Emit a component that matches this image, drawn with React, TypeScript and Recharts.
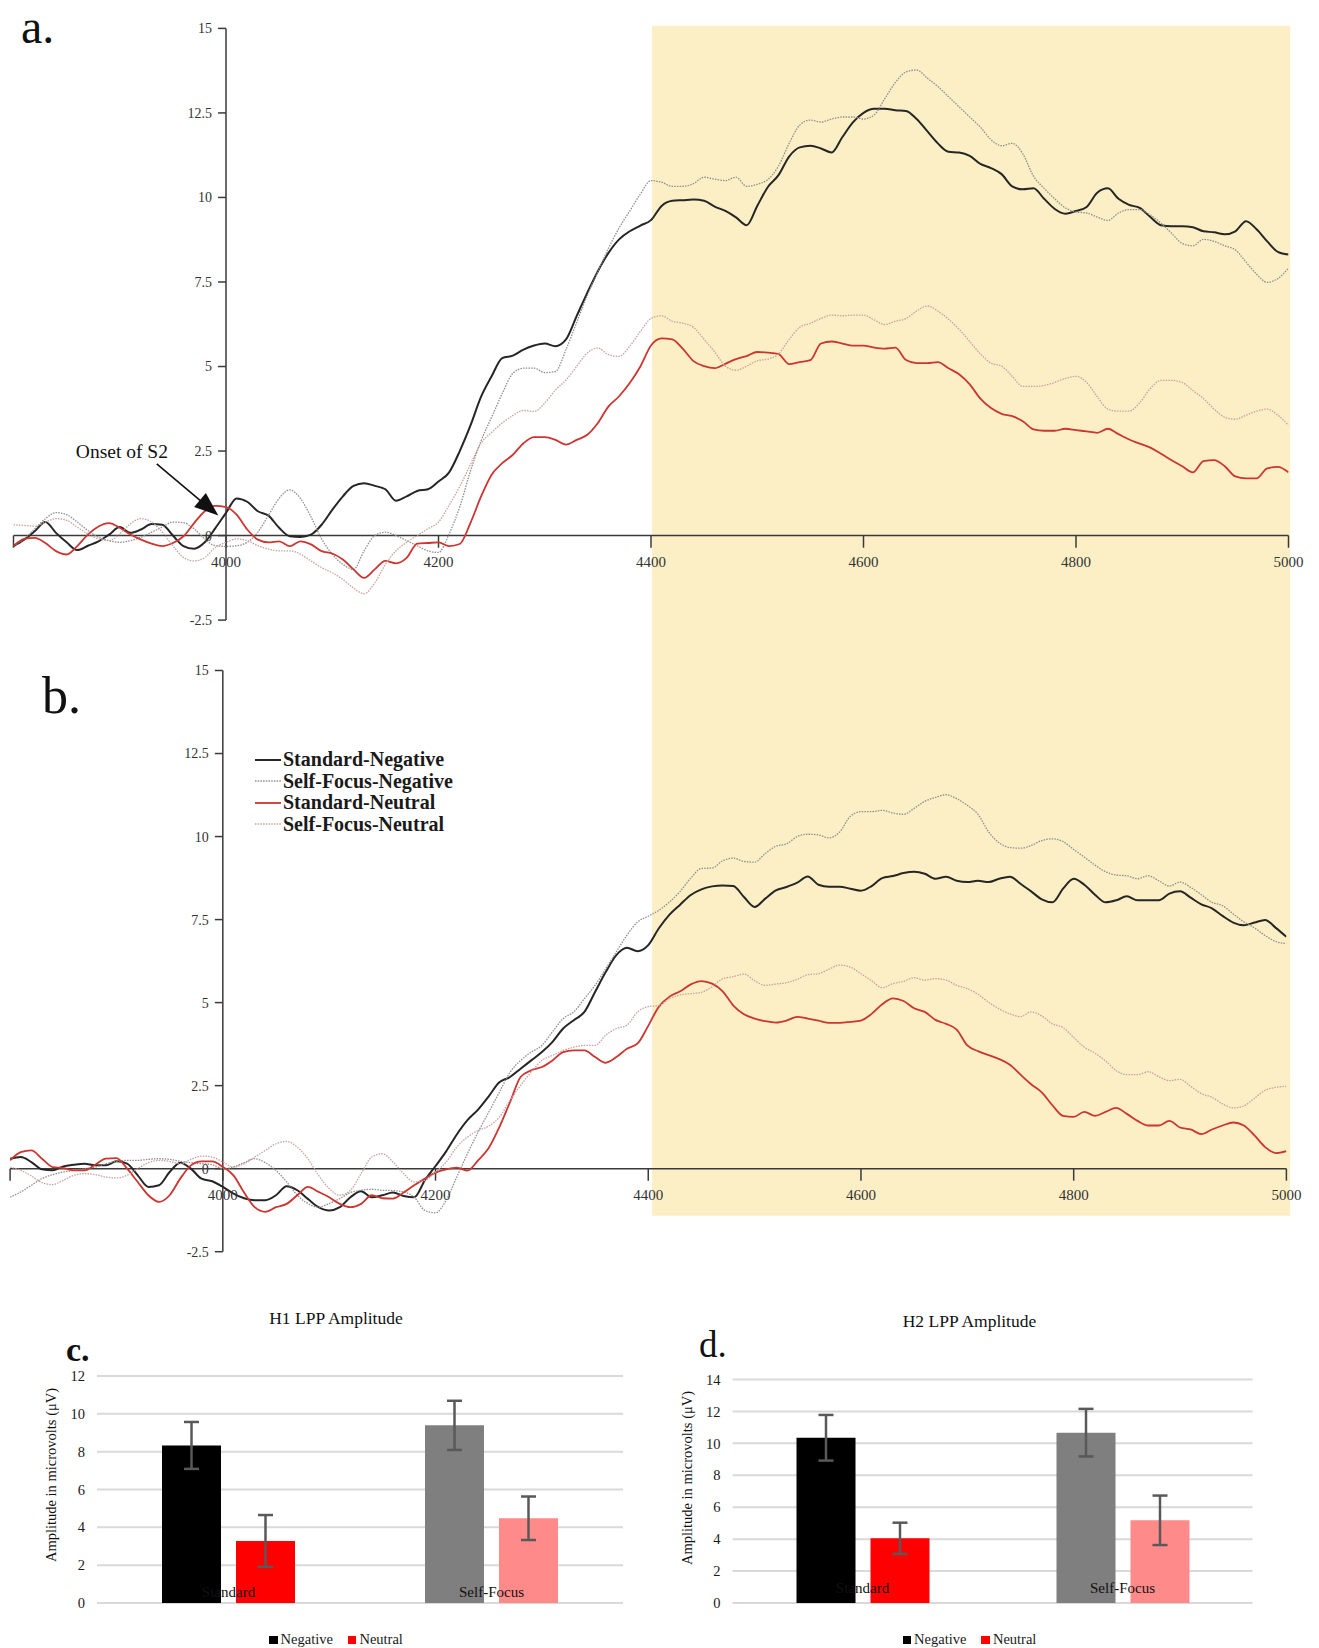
import React from 'react';
import {
  LineChart, Line, XAxis, YAxis, ReferenceArea, ReferenceLine, ReferenceDot, Legend,
  BarChart, Bar, Cell, ErrorBar, CartesianGrid,
} from 'recharts';

const SERIF = '"Liberation Serif", "Times New Roman", Times, serif';

// sample times in ms (10 ms steps)
const times = [
  3800, 3810, 3820, 3830, 3840, 3850, 3860, 3870, 3880, 3890,
  3900, 3910, 3920, 3930, 3940, 3950, 3960, 3970, 3980, 3990,
  4000, 4010, 4020, 4030, 4040, 4050, 4060, 4070, 4080, 4090,
  4100, 4110, 4120, 4130, 4140, 4150, 4160, 4170, 4180, 4190,
  4200, 4210, 4220, 4230, 4240, 4250, 4260, 4270, 4280, 4290,
  4300, 4310, 4320, 4330, 4340, 4350, 4360, 4370, 4380, 4390,
  4400, 4410, 4420, 4430, 4440, 4450, 4460, 4470, 4480, 4490,
  4500, 4510, 4520, 4530, 4540, 4550, 4560, 4570, 4580, 4590,
  4600, 4610, 4620, 4630, 4640, 4650, 4660, 4670, 4680, 4690,
  4700, 4710, 4720, 4730, 4740, 4750, 4760, 4770, 4780, 4790,
  4800, 4810, 4820, 4830, 4840, 4850, 4860, 4870, 4880, 4890,
  4900, 4910, 4920, 4930, 4940, 4950, 4960, 4970, 4980, 4990,
  5000,
];

// panel a (H1 LPP)
const aStdNeg = [
  -0.31, -0.12, 0.13, 0.40, 0.08, -0.20, -0.43, -0.30, -0.17, 0.03,
  0.25, 0.08, 0.18, 0.34, 0.32, 0.00, -0.31, -0.39, -0.20, 0.22,
  0.67, 1.10, 1.00, 0.72, 0.59, 0.23, -0.02, -0.04, 0.03, 0.32,
  0.76, 1.16, 1.47, 1.55, 1.47, 1.37, 1.03, 1.16, 1.32, 1.37,
  1.60, 1.87, 2.50, 3.25, 4.10, 4.71, 5.25, 5.32, 5.50, 5.62,
  5.68, 5.60, 5.80, 6.49, 7.18, 7.82, 8.36, 8.76, 9.00, 9.17,
  9.33, 9.75, 9.90, 9.92, 9.94, 9.90, 9.73, 9.60, 9.41, 9.18,
  9.75, 10.31, 10.66, 11.21, 11.48, 11.53, 11.45, 11.33, 11.78, 12.22,
  12.50, 12.62, 12.62, 12.58, 12.56, 12.32, 11.96, 11.60, 11.35, 11.33,
  11.23, 10.99, 10.87, 10.69, 10.33, 10.24, 10.27, 9.96, 9.66, 9.52,
  9.60, 9.72, 10.14, 10.27, 9.96, 9.78, 9.69, 9.42, 9.18, 9.15,
  9.15, 9.12, 9.00, 8.97, 8.91, 9.00, 9.30, 9.06, 8.70, 8.39,
  8.31,
];
const aSfNeg = [
  -0.30, -0.10, 0.20, 0.50, 0.68, 0.62, 0.40, 0.15, -0.05, -0.15,
  -0.20, -0.15, -0.05, 0.10, 0.25, 0.40, 0.38, 0.20, -0.10, -0.30,
  -0.32, -0.30, -0.20, 0.10, 0.60, 1.10, 1.35, 1.10, 0.55, -0.10,
  -0.55, -0.85, -1.00, -0.45, 0.00, 0.10, 0.00, -0.15, -0.30, -0.45,
  -0.50, 0.05, 0.85, 1.90, 2.80, 3.50, 4.20, 4.80, 4.95, 4.95,
  4.82, 4.85, 5.50, 6.30, 7.10, 7.80, 8.50, 9.10, 9.60, 10.10,
  10.50, 10.45, 10.33, 10.33, 10.41, 10.60, 10.54, 10.50, 10.60, 10.33,
  10.39, 10.53, 10.93, 11.60, 12.14, 12.29, 12.23, 12.32, 12.38, 12.38,
  12.32, 12.44, 12.92, 13.40, 13.71, 13.77, 13.53, 13.28, 12.98, 12.68,
  12.38, 12.08, 11.71, 11.53, 11.60, 11.29, 10.63, 10.27, 9.96, 9.69,
  9.57, 9.54, 9.42, 9.32, 9.54, 9.64, 9.64, 9.48, 9.24, 8.94,
  8.64, 8.57, 8.76, 8.70, 8.57, 8.45, 8.09, 7.73, 7.49, 7.60,
  7.91,
];
const aStdNeu = [
  -0.31, -0.10, -0.07, -0.22, -0.46, -0.56, -0.31, 0.03, 0.27, 0.37,
  0.23, 0.03, -0.12, -0.24, -0.31, -0.22, -0.02, 0.37, 0.72, 0.88,
  0.84, 0.62, 0.18, -0.12, -0.20, -0.17, -0.31, -0.17, -0.26, -0.46,
  -0.53, -0.71, -1.00, -1.25, -1.00, -0.75, -0.82, -0.66, -0.24, -0.22,
  -0.20, -0.31, -0.25, 0.37, 1.15, 1.80, 2.14, 2.39, 2.73, 2.91,
  2.91, 2.83, 2.69, 2.83, 2.98, 3.33, 3.82, 4.12, 4.51, 5.00,
  5.62, 5.83, 5.80, 5.52, 5.16, 5.01, 4.95, 5.08, 5.22, 5.31,
  5.43, 5.41, 5.37, 5.07, 5.13, 5.19, 5.68, 5.74, 5.68, 5.62,
  5.62, 5.56, 5.53, 5.56, 5.19, 5.10, 5.10, 5.13, 4.95, 4.77,
  4.47, 4.05, 3.77, 3.60, 3.53, 3.38, 3.14, 3.10, 3.10, 3.16,
  3.12, 3.08, 3.04, 3.16, 3.00, 2.84, 2.72, 2.60, 2.42, 2.23,
  2.05, 1.87, 2.20, 2.23, 2.05, 1.75, 1.69, 1.69, 1.99, 2.03,
  1.87,
];
const aSfNeu = [
  0.32, 0.30, 0.28, 0.40, 0.50, 0.45, 0.25, 0.05, -0.10, -0.15,
  0.05, 0.35, 0.50, 0.40, 0.10, -0.30, -0.65, -0.75, -0.65, -0.35,
  -0.20, -0.10, -0.15, -0.30, -0.40, -0.45, -0.45, -0.55, -0.75, -0.95,
  -1.10, -1.30, -1.55, -1.72, -1.40, -0.85, -0.45, -0.20, 0.00, 0.20,
  0.40, 0.90, 1.45, 2.10, 2.73, 3.05, 3.33, 3.55, 3.70, 3.67,
  3.92, 4.30, 4.60, 5.00, 5.40, 5.55, 5.35, 5.30, 5.60, 6.04,
  6.42, 6.50, 6.34, 6.28, 6.16, 5.80, 5.43, 5.01, 4.89, 5.01,
  5.17, 5.22, 5.37, 5.80, 6.16, 6.28, 6.42, 6.52, 6.50, 6.52,
  6.52, 6.38, 6.24, 6.34, 6.42, 6.64, 6.79, 6.64, 6.40, 6.10,
  5.74, 5.37, 5.10, 5.01, 4.71, 4.41, 4.41, 4.44, 4.53, 4.65,
  4.71, 4.53, 4.11, 3.74, 3.68, 3.68, 3.93, 4.35, 4.59, 4.59,
  4.53, 4.29, 4.05, 3.74, 3.50, 3.44, 3.56, 3.68, 3.74, 3.56,
  3.26,
];

// panel b (H2 LPP)
const bStdNeg = [
  0.30, 0.35, 0.20, -0.02, -0.05, 0.07, 0.12, 0.15, 0.10, 0.10,
  0.22, 0.15, -0.20, -0.55, -0.50, -0.10, 0.18, 0.00, -0.30, -0.38,
  -0.55, -0.75, -0.89, -0.95, -0.95, -0.80, -0.53, -0.65, -0.91, -1.16,
  -1.26, -1.16, -0.86, -0.68, -0.86, -0.80, -0.72, -0.82, -0.86, -0.35,
  0.08, 0.52, 1.03, 1.46, 1.78, 2.18, 2.60, 2.76, 3.01, 3.26,
  3.51, 3.82, 4.22, 4.47, 4.72, 5.32, 5.92, 6.43, 6.65, 6.55,
  6.73, 7.24, 7.65, 7.95, 8.24, 8.41, 8.50, 8.53, 8.51, 8.18,
  7.88, 8.13, 8.38, 8.48, 8.61, 8.80, 8.55, 8.49, 8.49, 8.43,
  8.37, 8.51, 8.75, 8.81, 8.90, 8.94, 8.88, 8.73, 8.79, 8.67,
  8.63, 8.67, 8.63, 8.73, 8.79, 8.58, 8.35, 8.11, 8.02, 8.43,
  8.73, 8.55, 8.25, 8.02, 8.08, 8.20, 8.08, 8.08, 8.08, 8.28,
  8.35, 8.16, 7.96, 7.84, 7.61, 7.41, 7.33, 7.41, 7.49, 7.25,
  6.98,
];
const bSfNeg = [
  -0.86, -0.70, -0.50, -0.30, -0.18, -0.10, -0.05, 0.00, 0.05, 0.15,
  0.22, 0.25, 0.25, 0.28, 0.30, 0.28, 0.22, 0.18, 0.15, 0.12,
  0.00, 0.05, 0.18, 0.30, 0.18, -0.05, -0.40, -0.80, -1.05, -1.16,
  -1.05, -0.90, -0.72, -0.65, -0.62, -0.65, -0.66, -0.70, -0.86, -1.26,
  -1.33, -0.95, -0.25, 0.45, 1.10, 1.70, 2.30, 2.90, 3.26, 3.51,
  3.71, 4.12, 4.52, 4.72, 5.12, 5.52, 6.02, 6.53, 7.03, 7.43,
  7.60, 7.78, 8.03, 8.35, 8.75, 9.04, 9.05, 9.27, 9.35, 9.25,
  9.23, 9.49, 9.71, 9.78, 10.00, 10.07, 10.05, 9.96, 10.14, 10.61,
  10.75, 10.75, 10.79, 10.71, 10.67, 10.85, 11.06, 11.18, 11.26, 11.14,
  10.94, 10.67, 10.14, 9.81, 9.67, 9.65, 9.73, 9.88, 9.93, 9.85,
  9.61, 9.38, 9.14, 8.94, 8.84, 8.82, 8.73, 8.82, 8.67, 8.51,
  8.63, 8.47, 8.25, 8.02, 7.92, 7.67, 7.43, 7.25, 7.02, 6.84,
  6.78,
];
const bStdNeu = [
  0.25, 0.50, 0.55, 0.30, 0.05, 0.02, -0.05, -0.05, 0.12, 0.30,
  0.32, 0.00, -0.40, -0.80, -1.00, -0.80, -0.30, 0.10, 0.22, 0.22,
  0.05, -0.20, -0.72, -1.16, -1.30, -1.16, -1.06, -0.80, -0.55, -0.70,
  -0.86, -1.06, -1.16, -1.06, -0.80, -0.89, -0.90, -0.72, -0.50, -0.30,
  -0.12, -0.02, 0.03, -0.06, 0.25, 0.62, 1.25, 2.00, 2.76, 2.96,
  3.06, 3.26, 3.51, 3.56, 3.56, 3.36, 3.19, 3.36, 3.61, 3.77,
  4.30, 4.88, 5.18, 5.34, 5.55, 5.65, 5.57, 5.34, 4.91, 4.65,
  4.52, 4.44, 4.40, 4.46, 4.57, 4.52, 4.46, 4.39, 4.39, 4.42,
  4.46, 4.66, 4.95, 5.13, 5.05, 4.83, 4.72, 4.48, 4.36, 4.19,
  3.71, 3.54, 3.42, 3.30, 3.13, 2.83, 2.54, 2.30, 1.91, 1.59,
  1.56, 1.71, 1.59, 1.71, 1.83, 1.65, 1.44, 1.30, 1.30, 1.44,
  1.24, 1.18, 1.04, 1.18, 1.30, 1.39, 1.30, 1.00, 0.65, 0.47,
  0.53,
];
const bSfNeu = [
  0.05, -0.05, -0.22, -0.42, -0.48, -0.35, -0.20, -0.15, -0.18, -0.25,
  -0.28, -0.20, 0.00, 0.18, 0.25, 0.22, 0.15, 0.28, 0.38, 0.35,
  0.20, 0.05, 0.15, 0.35, 0.55, 0.75, 0.82, 0.65, 0.30, -0.20,
  -0.60, -0.80, -0.65, -0.15, 0.35, 0.45, 0.20, -0.15, -0.40, -0.35,
  -0.10, 0.20, 0.65, 0.95, 1.15, 1.28, 1.55, 2.06, 2.51, 2.91,
  3.26, 3.41, 3.56, 3.66, 3.71, 3.71, 4.02, 4.22, 4.32, 4.72,
  4.88, 4.91, 5.12, 5.23, 5.27, 5.31, 5.48, 5.72, 5.78, 5.86,
  5.66, 5.52, 5.56, 5.60, 5.70, 5.84, 5.87, 6.01, 6.13, 6.07,
  5.87, 5.66, 5.45, 5.57, 5.64, 5.75, 5.68, 5.72, 5.68, 5.52,
  5.42, 5.25, 5.01, 4.81, 4.66, 4.58, 4.72, 4.60, 4.36, 4.25,
  3.95, 3.66, 3.48, 3.24, 2.95, 2.83, 2.83, 2.92, 2.77, 2.65,
  2.69, 2.48, 2.26, 2.15, 1.95, 1.83, 1.89, 2.12, 2.36, 2.45,
  2.48,
];

const xTicks = [4000, 4200, 4400, 4600, 4800, 5000];
const yTicks = [-2.5, 0, 2.5, 5, 7.5, 10, 12.5, 15];

// bar panels c / d
const barCats = ['Standard', 'Self-Focus'];
const h1Negative = [8.33, 9.39];
const h1Neutral = [3.28, 4.48];
const h1NegErr = [1.24, 1.3];
const h1NeuErr = [1.37, 1.15];
const h2Negative = [10.35, 10.67];
const h2Neutral = [4.05, 5.18];
const h2NegErr = [1.43, 1.49];
const h2NeuErr = [0.98, 1.55];
const negFills = ['#000000', '#7f7f7f'];
const neuFills = ['#ff0000', '#ff8a8a'];

const series = [
  { key: 'stdNeg', name: 'Standard-Negative', color: '#262626', width: 2, dash: undefined as string | undefined },
  { key: 'sfNeg', name: 'Self-Focus-Negative', color: '#8e8e8e', width: 1.3, dash: '1.5 1.2' },
  { key: 'stdNeu', name: 'Standard-Neutral', color: '#cc3530', width: 1.8, dash: undefined },
  { key: 'sfNeu', name: 'Self-Focus-Neutral', color: '#c9a0a0', width: 1.3, dash: '1.5 1.2' },
];

const toRows = (sn: number[], sfn: number[], stu: number[], sfu: number[]) =>
  times.map((t, i) => ({ t, stdNeg: sn[i], sfNeg: sfn[i], stdNeu: stu[i], sfNeu: sfu[i] }));

const aRows = toRows(aStdNeg, aSfNeg, aStdNeu, aSfNeu);
const bRows = toRows(bStdNeg, bSfNeg, bStdNeu, bSfNeu);

const toBars = (neg: number[], neu: number[], negErr: number[], neuErr: number[]) =>
  barCats.map((cat, i) => ({ cat, negative: neg[i], neutral: neu[i], negErr: negErr[i], neuErr: neuErr[i] }));

const h1Rows = toBars(h1Negative, h1Neutral, h1NegErr, h1NeuErr);
const h2Rows = toBars(h2Negative, h2Neutral, h2NegErr, h2NeuErr);

const AXIS = '#3a3a3a';

// axes crossing at (4000, 0), drawn with reference marks so they sit inside the plot
function axisParts() {
  const parts: React.ReactNode[] = [
    <ReferenceLine key="xline" segment={[{ x: 3800, y: 0 }, { x: 5000, y: 0 }]} stroke={AXIS} strokeWidth={1.5} ifOverflow="visible" />,
    <ReferenceLine key="yline" segment={[{ x: 4000, y: -2.5 }, { x: 4000, y: 15 }]} stroke={AXIS} strokeWidth={1.5} ifOverflow="visible" />,
  ];
  [3800, ...xTicks].forEach((t) =>
    parts.push(
      <ReferenceLine key={`xt${t}`} segment={[{ x: t, y: 0 }, { x: t, y: -0.36 }]} stroke={AXIS} strokeWidth={1.5} ifOverflow="visible" />,
    ),
  );
  xTicks.forEach((t) =>
    parts.push(
      <ReferenceDot
        key={`xl${t}`} x={t} y={0} r={1} fill="none" stroke="none" ifOverflow="visible"
        label={{ value: String(t), position: 'bottom', offset: 19.5, fill: '#333', fontSize: 15 }}
      />,
    ),
  );
  yTicks.forEach((v) => {
    parts.push(
      <ReferenceLine key={`yt${v}`} segment={[{ x: 3992.5, y: v }, { x: 4000, y: v }]} stroke={AXIS} strokeWidth={1.5} ifOverflow="visible" />,
    );
    parts.push(
      <ReferenceDot
        key={`yl${v}`} x={3992.5} y={v} r={1} fill="none" stroke="none" ifOverflow="visible"
        label={{ value: String(v), position: 'left', offset: 5, fill: '#333', fontSize: 14 }}
      />,
    );
  });
  return parts;
}

function lines() {
  return series.map((s) => (
    <Line
      key={s.key} dataKey={s.key} name={s.name} type="monotone" stroke={s.color}
      strokeWidth={s.width} strokeDasharray={s.dash} dot={false} activeDot={false} isAnimationActive={false}
    />
  ));
}

const Arrowhead = ({ cx, cy }: any) => {
  if (cx == null || cy == null) return null;
  return <polygon points={`${cx},${cy} ${cx - 24.2},${cy - 8.7} ${cx - 12.5},${cy - 22.6}`} fill="#111" />;
};

function ErpLegend({ payload }: any) {
  const given = payload && payload.length ? payload : series.map((s) => ({ value: s.name, dataKey: s.key }));
  const items = series
    .map((s) => ({ s, e: given.find((g: any) => g.dataKey === s.key) }))
    .filter((it) => it.e);
  return (
    <div style={{ fontFamily: SERIF, fontSize: 20, fontWeight: 'bold', color: '#1a1a1a' }}>
      {items.map(({ s, e }: any) => (
        <div key={s.key} style={{ display: 'flex', alignItems: 'center', height: 21.5, whiteSpace: 'nowrap' }}>
          <svg width={26} height={6} style={{ display: 'block' }}>
            <line x1={0} y1={3} x2={26} y2={3} stroke={s.color} strokeWidth={s.width} strokeDasharray={s.dash} />
          </svg>
          <span style={{ marginLeft: 2, lineHeight: '21.5px' }}>{e.value}</span>
        </div>
      ))}
    </div>
  );
}

function BarLegend({ payload }: any) {
  return (
    <div style={{ display: 'flex', justifyContent: 'center', fontFamily: SERIF, fontSize: 14.5, lineHeight: '16px', color: '#1a1a1a' }}>
      {(payload || []).map((e: any, i: number) => (
        <span key={i} style={{ marginLeft: i ? 15 : 0, whiteSpace: 'nowrap' }}>
          <span style={{ display: 'inline-block', width: 8.5, height: 8.5, background: e.color, marginRight: 3 }} />
          {e.value}
        </span>
      ))}
    </div>
  );
}

const catTick = (lift: number) => (p: any) => (
  <text x={p.x} y={p.y} dy={-lift} textAnchor="middle" fill="#111" fontSize={15} fontFamily={SERIF}>
    {p.payload.value}
  </text>
);

function LppBars({ rows, width, margin, max, ticks, lift }: any) {
  return (
    <BarChart width={width} height={358} data={rows} margin={margin} barSize={59} barGap={15}>
      <CartesianGrid vertical={false} stroke="#d9d9d9" strokeWidth={2} />
      <XAxis dataKey="cat" height={10} axisLine={false} tickLine={false} tickSize={0} tickMargin={0} interval={0} tick={catTick(lift)} />
      <YAxis
        width={40} domain={[0, max]} ticks={ticks} axisLine={false} tickLine={false}
        tickSize={0} tickMargin={12} tick={{ fill: '#1a1a1a', fontSize: 14.5, fontFamily: SERIF }}
      />
      <Bar dataKey="negative" name="Negative" fill="#000000" isAnimationActive={false}>
        {rows.map((r: any, i: number) => <Cell key={r.cat} fill={negFills[i]} />)}
        <ErrorBar dataKey="negErr" width={7.5} strokeWidth={2.5} stroke="#595959" />
      </Bar>
      <Bar dataKey="neutral" name="Neutral" fill="#ff0000" isAnimationActive={false}>
        {rows.map((r: any, i: number) => <Cell key={r.cat} fill={neuFills[i]} />)}
        <ErrorBar dataKey="neuErr" width={7.5} strokeWidth={2.5} stroke="#595959" />
      </Bar>
      <Legend verticalAlign="middle" wrapperStyle={{ top: 341, left: 0, width }} content={BarLegend} />
    </BarChart>
  );
}

const abs = (left: number, top: number): React.CSSProperties => ({ position: 'absolute', left, top });

export default function App() {
  const shade = '#fcefc6';
  return (
    <div style={{ position: 'absolute', left: 0, top: 0, width: 1319, height: 1648, background: '#fff', fontFamily: SERIF, color: '#111', overflow: 'hidden' }}>
      <div style={abs(0, 0)}>
        <LineChart width={1319} height={640} data={aRows} margin={{ top: 28.4, right: 30.5, bottom: 19.9, left: 13.5 }}>
          <XAxis type="number" dataKey="t" domain={[3800, 5000]} hide allowDataOverflow />
          <YAxis type="number" domain={[-2.5, 15]} hide allowDataOverflow />
          <ReferenceArea x1={4401} x2={5001.6} y1={-4} y2={15.08} fill={shade} fillOpacity={1} stroke="none" ifOverflow="visible" />
          {axisParts()}
          {lines()}
          <ReferenceLine segment={[{ x: 3934.8, y: 2.12 }, { x: 3978.4, y: 0.97 }]} stroke="#111" strokeWidth={1.6} ifOverflow="visible" />
          <ReferenceDot x={3992.8} y={0.59} r={1} ifOverflow="visible" shape={Arrowhead} />
          <ReferenceDot
            x={3902} y={2.5} r={1} fill="none" stroke="none" ifOverflow="visible"
            label={{ value: 'Onset of S2', position: 'center', fill: '#111', fontSize: 19.5 }}
          />
        </LineChart>
      </div>

      <div style={abs(0, 640)}>
        <LineChart width={1319} height={640} data={bRows} margin={{ top: 30.5, right: 32.6, bottom: 28.3, left: 10.1 }}>
          <XAxis type="number" dataKey="t" domain={[3800, 5000]} hide allowDataOverflow />
          <YAxis type="number" domain={[-2.5, 15]} hide allowDataOverflow />
          <ReferenceArea x1={4403.6} x2={5003.6} y1={-1.42} y2={17} fill={shade} fillOpacity={1} stroke="none" ifOverflow="visible" />
          {axisParts()}
          {lines()}
          <Legend verticalAlign="middle" layout="horizontal" wrapperStyle={{ top: 109, left: 255, width: 'auto' }} content={ErpLegend} />
        </LineChart>
      </div>

      <div style={abs(12, 1290)}>
        <LppBars rows={h1Rows} width={648} margin={{ top: 86, right: 37, bottom: 35, left: 45 }} max={12} ticks={[0, 2, 4, 6, 8, 10, 12]} lift={6} />
      </div>
      <div style={abs(660, 1290)}>
        <LppBars rows={h2Rows} width={619} margin={{ top: 89.5, right: 26.5, bottom: 35, left: 32.5 }} max={14} ticks={[0, 2, 4, 6, 8, 10, 12, 14]} lift={10} />
      </div>

      {/* panel letters and titles */}
      <div style={{ ...abs(21, 3), fontSize: 48, lineHeight: 1 }}>a.</div>
      <div style={{ ...abs(42, 669.5), fontSize: 52, lineHeight: 1 }}>b.</div>
      <div style={{ ...abs(66, 1332.5), fontSize: 34, lineHeight: 1, fontWeight: 'bold' }}>c.</div>
      <div style={{ ...abs(699, 1326), fontSize: 37, lineHeight: 1 }}>d.</div>
      <div style={{ ...abs(12, 1309.8), width: 648, textAlign: 'center', fontSize: 17.5, lineHeight: 1 }}>H1 LPP Amplitude</div>
      <div style={{ ...abs(660, 1312.8), width: 619, textAlign: 'center', fontSize: 17.5, lineHeight: 1 }}>H2 LPP Amplitude</div>
      <div style={{ ...abs(50.5, 1474.6), transform: 'translate(-50%, -50%) rotate(-90deg)', fontSize: 14.5, lineHeight: 1, whiteSpace: 'nowrap' }}>
        Amplitude in microvolts (μV)
      </div>
      <div style={{ ...abs(687, 1478), transform: 'translate(-50%, -50%) rotate(-90deg)', fontSize: 14.5, lineHeight: 1, whiteSpace: 'nowrap' }}>
        Amplitude in microvolts (μV)
      </div>
    </div>
  );
}
